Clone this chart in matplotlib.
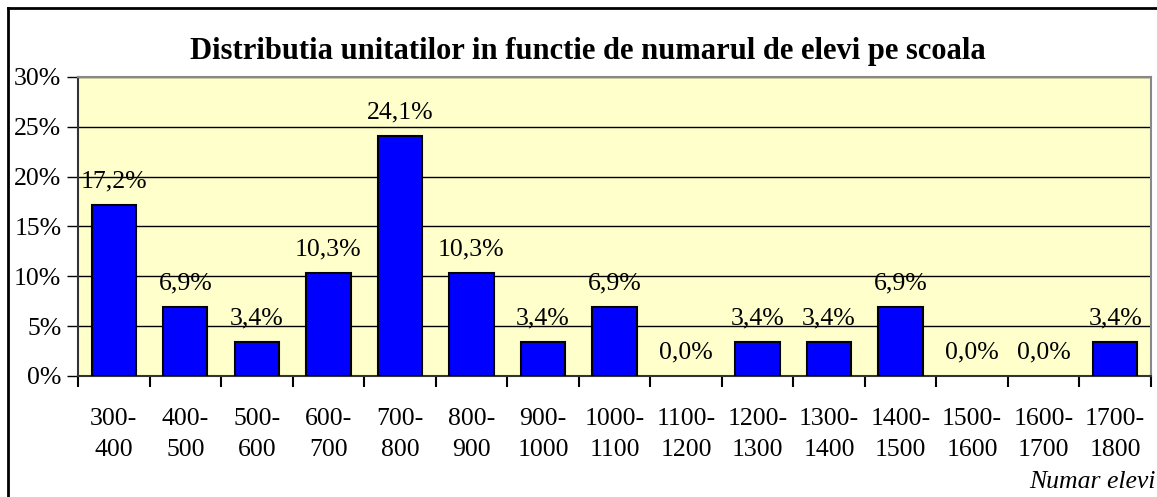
import matplotlib

matplotlib.use("Agg")
import matplotlib.pyplot as plt
import matplotlib.ticker as mtick
from matplotlib.lines import Line2D

plt.rcParams["font.family"] = ["Liberation Serif", "DejaVu Serif"]

CATEGORIES = ["300-\n400", "400-\n500", "500-\n600", "600-\n700", "700-\n800",
              "800-\n900", "900-\n1000", "1000-\n1100", "1100-\n1200", "1200-\n1300",
              "1300-\n1400", "1400-\n1500", "1500-\n1600", "1600-\n1700", "1700-\n1800"]
SHARES = [17.2, 6.9, 3.4, 10.3, 24.1, 10.3, 3.4, 6.9, 0.0, 3.4, 3.4, 6.9, 0.0, 0.0, 3.4]
Y_TICKS = [0, 5, 10, 15, 20, 25, 30]
TITLE = "Distributia unitatilor in functie de numarul de elevi pe scoala"
X_LABEL = "Numar elevi"

W, H = 1157, 497
FS = 18.5
fig = plt.figure(figsize=(W / 100, H / 100), dpi=100)
ax = fig.add_axes([78 / W, 1 - 376 / H, (1151 - 78) / W, (376 - 77) / H])
ax.set_facecolor("#ffffcc")

x = list(range(len(CATEGORIES)))
ax.bar(x, SHARES, width=0.62, color="#0000ff", edgecolor="black",
       linewidth=[1.5 if v > 0 else 0 for v in SHARES], zorder=3)
for xi, v in zip(x, SHARES):
    ax.annotate(f"{v:.1f}%".replace(".", ","), (xi, v), xytext=(0, 9),
                textcoords="offset points", ha="center", va="bottom", fontsize=FS, zorder=4)

ax.set_xlim(-0.5, len(CATEGORIES) - 0.5)
ax.set_ylim(0, 30)
ax.set_yticks(Y_TICKS)
ax.yaxis.set_major_formatter(mtick.FormatStrFormatter("%d%%"))
ax.grid(axis="y", color="black", linewidth=1, zorder=1)

ax.set_xticks(x)
ax.set_xticklabels(CATEGORIES, fontsize=FS, linespacing=1.55)
ax.set_xticks([i - 0.5 for i in range(len(CATEGORIES) + 1)], minor=True)
ax.tick_params(axis="x", which="major", length=0, pad=23)
ax.tick_params(axis="x", which="minor", length=8, width=1.5, direction="out")
ax.tick_params(axis="y", length=8, width=1, labelsize=FS, pad=4)

for side in ("top", "right"):
    ax.spines[side].set_color("#888888")
    ax.spines[side].set_linewidth(1.5)
for side in ("left", "bottom"):
    ax.spines[side].set_color("#333333")
    ax.spines[side].set_linewidth(1.5)

fig.text(588 / W, 1 - 51 / H, TITLE, ha="center", va="center", fontsize=22, fontweight="bold")
fig.text(1 - 1 / W, 1 - 482 / H, X_LABEL, ha="right", va="center", fontsize=FS, style="italic")

# outer chart frame (only top and left edges visible)
fig.add_artist(Line2D([8 / W, 1], [1 - 8 / H, 1 - 8 / H], color="black", linewidth=2))
fig.add_artist(Line2D([8 / W, 8 / W], [0, 1 - 8 / H], color="black", linewidth=2))

fig.savefig("out.png", dpi=100)
plt.close(fig)
